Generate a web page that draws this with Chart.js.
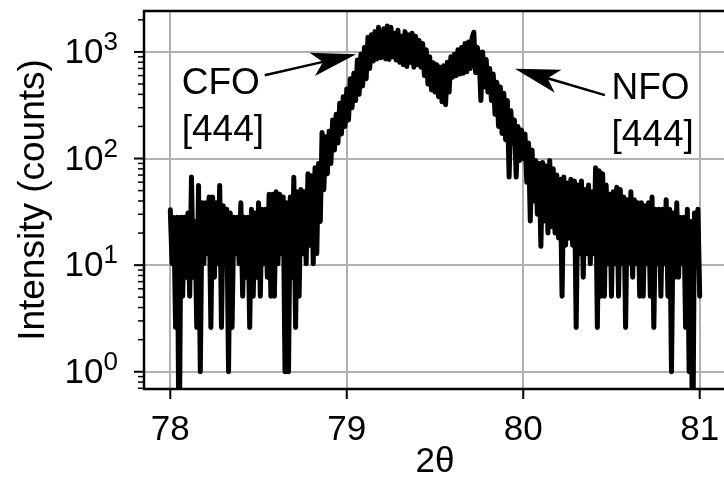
<!DOCTYPE html>
<html>
<head>
<meta charset="utf-8">
<script src="https://cdn.jsdelivr.net/npm/chart.js@4.4.1/dist/chart.umd.min.js"></script>
<style>
  html, body { margin: 0; padding: 0; background: #fff; }
  #clip { width: 724px; height: 477px; overflow: hidden; position: relative; }
  #wrap { width: 750px; height: 477px; }
</style>
</head>
<body>
<div id="clip"><div id="wrap"><canvas id="xrd" width="750" height="477"></canvas></div></div>
<script>
// scan grid: 2theta from 78.00 to 81.00 in 0.01 steps
var twoThetaStart = 78.0;
var twoThetaStep = 0.01;

// intensity (counts), one value per step
// (0.1 stands for zero counts, which drop off the log axis)
var intensity = [
  33, 10.3, 28, 2.6, 28.2, 0.1, 28.2, 5.1, 28.2, 7.7,
  30.8, 5.1, 67, 7.7, 25.7, 2.6, 56, 1, 38.5, 10.3,
  38.5, 12.8, 43.6, 2.6, 43.6, 7.7, 38.5, 10.3, 56, 2.6,
  36, 10.3, 33.4, 1, 30.8, 2.6, 28.2, 12.8, 28.2, 10.3,
  38.5, 5.1, 28.2, 7.7, 28.2, 2.6, 33.4, 5.1, 30.8, 7.7,
  38.5, 5.1, 33.4, 10.3, 33.4, 7.7, 46.2, 5.1, 46.2, 5.1,
  48.8, 10.3, 46.2, 12.8, 43.6, 1, 38.5, 1, 43.6, 7.7,
  66.8, 2.6, 48.8, 5.1, 51.3, 12.8, 48.8, 10.3, 72, 15.4,
  69, 10.3, 82, 12.8, 90, 25.7, 175, 51, 160, 72,
  180, 90, 230, 120, 260, 140, 330, 170, 380, 200,
  450, 230, 560, 300, 630, 350, 840, 400, 950, 480,
  1100, 560, 1370, 700, 1450, 820, 1550, 860, 1700, 880,
  900, 1650, 860, 1750, 850, 1700, 900, 1500, 840, 1600,
  800, 1400, 760, 1550, 730, 1450, 800, 1500, 720, 1400,
  760, 1280, 720, 1200, 600, 1050, 500, 900, 440, 790,
  420, 760, 380, 720, 340, 740, 320, 800, 420, 900,
  580, 950, 600, 1050, 620, 1100, 630, 1200, 650, 1240,
  700, 1350, 1530, 640, 1100, 900, 350, 1000, 470, 850,
  420, 700, 350, 620, 260, 520, 200, 470, 172, 410,
  150, 350, 67, 280, 140, 230, 67, 200, 96, 185,
  100, 170, 60, 140, 26, 120, 40, 96, 30, 90,
  15, 92, 26, 85, 20, 96, 23, 80, 20, 70,
  18, 64, 5.1, 67, 15.4, 59, 18, 64, 15.4, 61.6,
  2.6, 56.5, 12.8, 61.6, 7.7, 51.3, 12.8, 56.5, 10.3, 48.8,
  12.8, 82, 2.6, 77, 5.1, 72, 5.1, 56.5, 10.3, 46.2,
  5.1, 48.8, 10.3, 53.9, 5.1, 51.3, 10.3, 43.6, 2.6, 41,
  10.3, 48.8, 7.7, 41, 10.3, 38.5, 5.1, 38.5, 5.1, 36,
  10.3, 38.5, 5.1, 43.6, 2.6, 33.4, 10.3, 33.4, 5.1, 33.4,
  10.3, 41, 5.1, 33.4, 1, 30.8, 7.7, 38.5, 7.7, 28.2,
  10.3, 28.2, 2.6, 33.4, 1, 25.7, 0.1, 30.8, 10.3, 33.4,
  5.1
];

var xTicks = [78, 79, 80, 81];
var yTicks = [1, 10, 100, 1000];
var yTickExp = ["0", "1", "2", "3"];

// annotations, in data coordinates
var notes = [
  { lines: ["CFO", "[444]"], at: [78.065, 407], tail: [78.535, 604], tip: [79.053, 950] },
  { lines: ["NFO", "[444]"], at: [80.50, 365], tail: [80.463, 393], tip: [79.953, 697] }
];

var FONT = '"Liberation Sans", Arial, sans-serif';

var points = intensity.map(function (v, i) {
  return { x: twoThetaStart + i * twoThetaStep, y: v };
});

function drawArrow(ctx, x0, y0, x1, y1) {
  var ang = Math.atan2(y1 - y0, x1 - x0);
  var c = Math.cos(ang), s = Math.sin(ang);
  var L = 45, W = 12, N = 34;
  ctx.lineWidth = 2.5;
  ctx.beginPath();
  ctx.moveTo(x0, y0);
  ctx.lineTo(x1 - N * c, y1 - N * s);
  ctx.stroke();
  ctx.beginPath();
  ctx.moveTo(x1, y1);
  ctx.lineTo(x1 - L * c - W * s, y1 - L * s + W * c);
  ctx.lineTo(x1 - N * c, y1 - N * s);
  ctx.lineTo(x1 - L * c + W * s, y1 - L * s - W * c);
  ctx.closePath();
  ctx.fill();
}

var decor = {
  id: "decor",
  afterDraw: function (chart) {
    var ctx = chart.ctx, a = chart.chartArea;
    var xs = chart.scales.x, ys = chart.scales.y;
    ctx.save();
    ctx.strokeStyle = "#000";
    ctx.fillStyle = "#000";

    // spines
    ctx.lineWidth = 2.5;
    ctx.beginPath();
    ctx.moveTo(a.left, a.bottom); ctx.lineTo(a.left, a.top);
    ctx.lineTo(a.right, a.top); ctx.lineTo(a.right, a.bottom);
    ctx.closePath();
    ctx.stroke();

    // y ticks, major and minor
    for (var d = -1; d <= 3; d++) {
      for (var m = 1; m <= 9; m++) {
        var v = m * Math.pow(10, d);
        if (v < ys.min || v > ys.max) continue;
        var py = ys.getPixelForValue(v);
        ctx.lineWidth = m === 1 ? 2 : 1.5;
        ctx.beginPath();
        ctx.moveTo(a.left, py);
        ctx.lineTo(a.left - (m === 1 ? 10 : 6), py);
        ctx.stroke();
      }
    }
    // x ticks
    ctx.lineWidth = 2;
    xTicks.forEach(function (t) {
      var px = xs.getPixelForValue(t);
      ctx.beginPath();
      ctx.moveTo(px, a.bottom);
      ctx.lineTo(px, a.bottom + 10);
      ctx.stroke();
    });

    // x tick labels
    ctx.font = "35px " + FONT;
    ctx.textAlign = "center";
    ctx.textBaseline = "alphabetic";
    xTicks.forEach(function (t) {
      ctx.fillText(String(t), xs.getPixelForValue(t), a.bottom + 51);
    });

    // y tick labels 10^n
    ctx.textAlign = "right";
    yTicks.forEach(function (t, k) {
      var py = ys.getPixelForValue(t);
      ctx.font = "26px " + FONT;
      var sw = ctx.measureText(yTickExp[k]).width;
      ctx.fillText(yTickExp[k], a.left - 26, py - 2);
      ctx.font = "35px " + FONT;
      ctx.fillText("10", a.left - 26 - sw, py + 11);
    });

    // axis titles
    ctx.font = "35px " + FONT;
    ctx.textAlign = "center";
    ctx.fillText("2\u03b8", (a.left + a.right) / 2, a.bottom + 83);
    ctx.save();
    ctx.font = "37px " + FONT;
    ctx.translate(44, (a.top + a.bottom) / 2);
    ctx.rotate(-Math.PI / 2);
    ctx.fillText("Intensity (counts)", 0, 0);
    ctx.restore();

    // annotations
    ctx.font = "37px " + FONT;
    ctx.textAlign = "left";
    notes.forEach(function (n) {
      var tx = xs.getPixelForValue(n.at[0]), ty = ys.getPixelForValue(n.at[1]);
      n.lines.forEach(function (s, j) {
        ctx.fillText(s, tx, ty + j * 47);
      });
      drawArrow(ctx,
        xs.getPixelForValue(n.tail[0]), ys.getPixelForValue(n.tail[1]),
        xs.getPixelForValue(n.tip[0]), ys.getPixelForValue(n.tip[1]));
    });
    ctx.restore();
  }
};

new Chart(document.getElementById("xrd"), {
  type: "line",
  data: {
    datasets: [{
      data: points,
      borderColor: "#000",
      borderWidth: 5,
      borderJoinStyle: "round",
      borderCapStyle: "round",
      pointRadius: 0,
      tension: 0,
      fill: false
    }]
  },
  options: {
    responsive: false,
    animation: false,
    events: [],
    layout: { padding: { left: 144, top: 11, right: 24, bottom: 88 } },
    plugins: { legend: { display: false }, tooltip: { enabled: false } },
    scales: {
      x: {
        type: "linear",
        min: 77.851,
        max: 81.149,
        afterBuildTicks: function (s) { s.ticks = xTicks.map(function (v) { return { value: v }; }); },
        afterFit: function (s) { s.height = 0; },
        ticks: { display: false },
        border: { display: false },
        grid: { color: "#b0b0b0", lineWidth: 2, drawTicks: false }
      },
      y: {
        type: "logarithmic",
        min: 0.689,
        max: 2420,
        afterBuildTicks: function (s) { s.ticks = yTicks.map(function (v) { return { value: v }; }); },
        afterFit: function (s) { s.width = 0; },
        ticks: { display: false },
        border: { display: false },
        grid: { color: "#b0b0b0", lineWidth: 2, drawTicks: false }
      }
    }
  },
  plugins: [decor]
});
</script>
</body>
</html>
